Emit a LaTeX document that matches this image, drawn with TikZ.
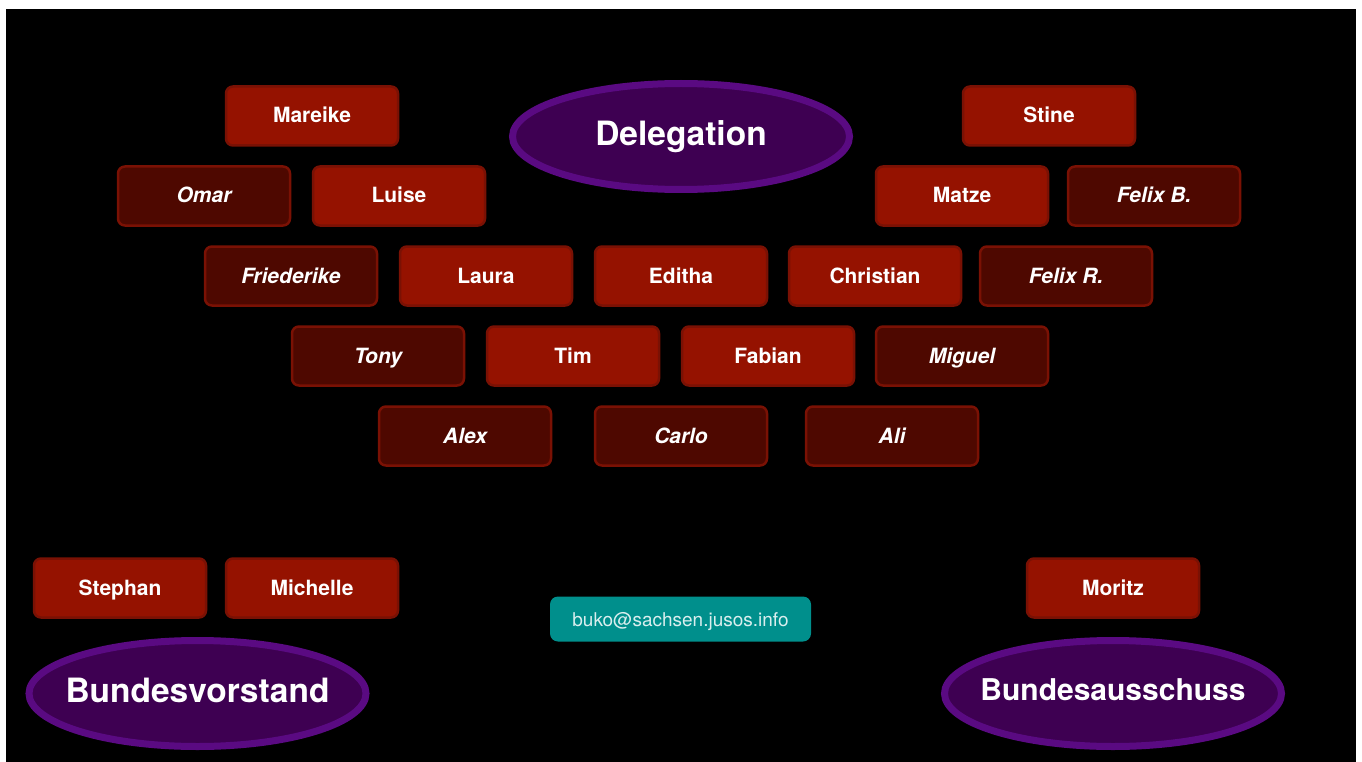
\documentclass[tikz,border=0pt]{standalone}
\usepackage{fontspec}
\setmainfont{TeX Gyre Heros}
\usetikzlibrary{positioning,shapes.geometric}

\definecolor{boxred}{HTML}{951200}
\definecolor{boxdark}{HTML}{4E0800}
\definecolor{edgered}{HTML}{7A1104}
\definecolor{ringpurple}{HTML}{5A0A82}
\definecolor{corepurple}{HTML}{3E0052}
\definecolor{mailteal}{HTML}{008F8C}

\newcommand{\flatlabel}[1]{\makebox[0pt][c]{#1}}

\tikzset{
	member/.style={draw=edgered, line width=2.5pt, fill=boxred,
		rounded corners=7pt, minimum width=172pt, minimum height=59pt,
		inner sep=0pt, text height=15pt, text depth=1pt, text=white,
		font=\fontsize{21}{25}\selectfont\bfseries},
	guest/.style={member, fill=boxdark,
		font=\fontsize{21}{25}\selectfont\bfseries\itshape},
	body/.style={ellipse, draw=ringpurple, line width=7pt, fill=corepurple,
		minimum width=337pt, minimum height=106pt, inner sep=0pt,
		text height=20pt, text depth=2pt, text=white,
		font=\fontsize{33.5}{38}\selectfont\bfseries},
}

\begin{document}
\begin{tikzpicture}[x=1pt,y=-1pt]
	\useasboundingbox (0,0) rectangle (1362,762);
	\fill[white] (0,0) rectangle (1362,762);
	\fill[black] (6,9) rectangle (1356,762);

	% gremien
	\node[body] (deleg) at (681,136.5) {\flatlabel{Delegation}};
	\node[body] (bv) at (197.5,693.5) {\flatlabel{Bundesvorstand}};
	\node[body, text height=16pt, font=\fontsize{30}{36}\selectfont\bfseries] 
	      (ba) at (1113,693.5) {\flatlabel{Bundesausschuss}};

	% delegation
	\node[member] (mareike) at (312,116) {Mareike};
	\node[member] (stine) at (1049,116) {Stine};

	\node[guest] (omar) at (204,196) {Omar};
	\node[member] (luise) at (399,196) {Luise};
	\node[member] (matze) at (962,196) {Matze};
	\node[guest] (felixb) at (1154,196) {Felix B.};

	\node[guest] (friederike) at (291,276) {Friederike};
	\node[member] (laura) at (486,276) {Laura};
	\node[member] (editha) at (681,276) {Editha};
	\node[member] (christian) at (875,276) {Christian};
	\node[guest] (felixr) at (1066,276) {Felix R.};

	\node[guest] (tony) at (378,356) {Tony};
	\node[member] (tim) at (573,356) {Tim};
	\node[member] (fabian) at (768,356) {Fabian};
	\node[guest] (miguel) at (962,356) {Miguel};

	\node[guest] (alex) at (465,436) {Alex};
	\node[guest] (carlo) at (681,436) {Carlo};
	\node[guest] (ali) at (892,436) {Ali};

	% bundesvorstand / bundesausschuss
	\node[member] (stephan) at (120,588) {Stephan};
	\node[member] (michelle) at (312,588) {Michelle};
	\node[member] (moritz) at (1113,588) {Moritz};

	% kontakt
	\node[fill=mailteal, rounded corners=8pt, minimum width=261pt,
	      minimum height=45pt, inner sep=0pt, text height=14pt, text depth=0pt,
	      text=white!85!mailteal, font=\fontsize{19}{22}\selectfont] 
	      (mail) at (680.5,619) {buko@sachsen.jusos.info};
\end{tikzpicture}
\end{document}
